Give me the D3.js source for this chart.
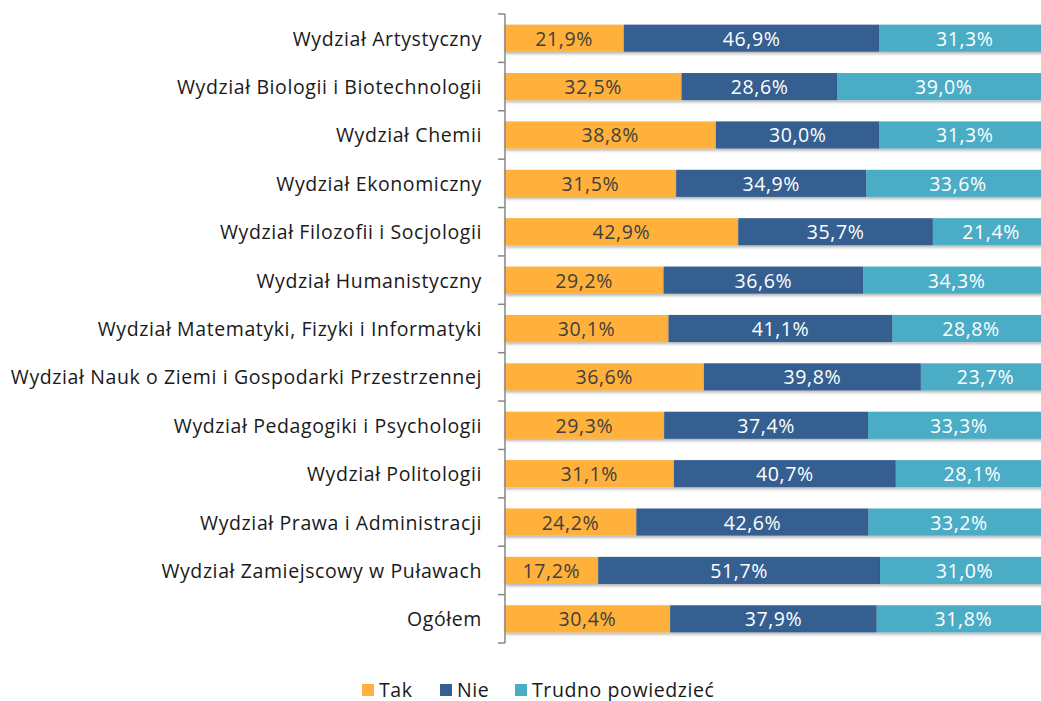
<!DOCTYPE html>
<html><head><meta charset="utf-8">
<script src="https://cdn.jsdelivr.net/npm/d3@7"></script>
<style>body{margin:0;background:#fff;}svg{display:block;font-family:"Open Sans",sans-serif;}</style>
</head><body>
<svg id="c" width="1041" height="701"></svg>
<script>
const categories = ["Wydział Artystyczny","Wydział Biologii i Biotechnologii","Wydział Chemii","Wydział Ekonomiczny","Wydział Filozofii i Socjologii","Wydział Humanistyczny","Wydział Matematyki, Fizyki i Informatyki","Wydział Nauk o Ziemi i Gospodarki Przestrzennej","Wydział Pedagogiki i Psychologii","Wydział Politologii","Wydział Prawa i Administracji","Wydział Zamiejscowy w Puławach","Ogółem"];
const tak = [21.9,32.5,38.8,31.5,42.9,29.2,30.1,36.6,29.3,31.1,24.2,17.2,30.4];
const nie = [46.9,28.6,30.0,34.9,35.7,36.6,41.1,39.8,37.4,40.7,42.6,51.7,37.9];
const trudno = [31.3,39.0,31.3,33.6,21.4,34.3,28.8,23.7,33.3,28.1,33.2,31.0,31.8];
const seriesNames = ["Tak","Nie","Trudno powiedzieć"];
const colors = ["#FFB13B","#355E91","#4BACC6"];
const textColors = ["#404040","#ffffff","#ffffff"];

const FS = 19.5, LS = 0.6;
const svg = d3.select("#c");
const defs = svg.append("defs");
const f = defs.append("filter").attr("id","sh").attr("x","-5%").attr("y","-20%").attr("width","110%").attr("height","160%");
f.append("feDropShadow").attr("dx",1).attr("dy",2).attr("stdDeviation",1.5).attr("flood-color","#000").attr("flood-opacity",0.3);

const rows = categories.map((c,i)=>({cat:c, Tak:tak[i], Nie:nie[i], "Trudno powiedzieć":trudno[i]}));
const stack = d3.stack().keys(seriesNames)(rows);

const x = d3.scaleLinear().domain([0,100]).range([504.5,1049.5]);
const y = d3.scaleBand().domain(categories).range([14,643]).paddingInner(0.44).paddingOuter(0.22);
const yAxisScale = d3.scaleBand().domain(categories).range([14,643]);

// bars
stack.forEach((s,si)=>{
  const g = svg.append("g");
  g.selectAll("rect").data(s).join("rect")
    .attr("x",d=>x(d[0])).attr("y",d=>y(d.data.cat))
    .attr("width",d=>x(d[1])-x(d[0])).attr("height",y.bandwidth())
    .attr("fill",colors[si]).attr("filter","url(#sh)");
});
stack.forEach((s,si)=>{
  svg.append("g").selectAll("text").data(s).join("text")
    .attr("x",d=>(x(d[0])+x(d[1]))/2).attr("y",d=>y(d.data.cat)+y.bandwidth()/2)
    .attr("text-anchor","middle").attr("dominant-baseline","central")
    .attr("font-size",FS).attr("letter-spacing",LS).attr("fill",textColors[si])
    .text(d=>(d[1]-d[0]).toFixed(1).replace(".",",")+"%");
});

// axis
const ax = svg.append("g").attr("transform","translate(505,0)");
ax.append("line").attr("x1",0).attr("x2",0).attr("y1",14).attr("y2",643).attr("stroke","#868686").attr("stroke-width",1.5);
const tickYs = categories.map(c=>yAxisScale(c)).concat([643]);
ax.selectAll("line.t").data(tickYs).join("line").attr("class","t")
  .attr("x1",-7).attr("x2",0).attr("y1",d=>d).attr("y2",d=>d).attr("stroke","#868686").attr("stroke-width",1.5);
svg.append("g").selectAll("text").data(categories).join("text")
  .attr("x",482).attr("y",d=>yAxisScale(d)+yAxisScale.bandwidth()/2)
  .attr("text-anchor","end").attr("dominant-baseline","central")
  .attr("font-size",FS).attr("letter-spacing",LS).attr("fill","#1a1a1a").text(d=>d);

// legend
const legX = [362,440,515];
const lg = svg.append("g");
seriesNames.forEach((n,i)=>{
  lg.append("rect").attr("x",legX[i]).attr("y",684).attr("width",12).attr("height",12).attr("fill",colors[i]);
  lg.append("text").attr("x",legX[i]+17).attr("y",689).attr("dominant-baseline","central")
    .attr("font-size",FS).attr("letter-spacing",LS).attr("fill","#1a1a1a").text(n);
});
</script>
</body></html>
